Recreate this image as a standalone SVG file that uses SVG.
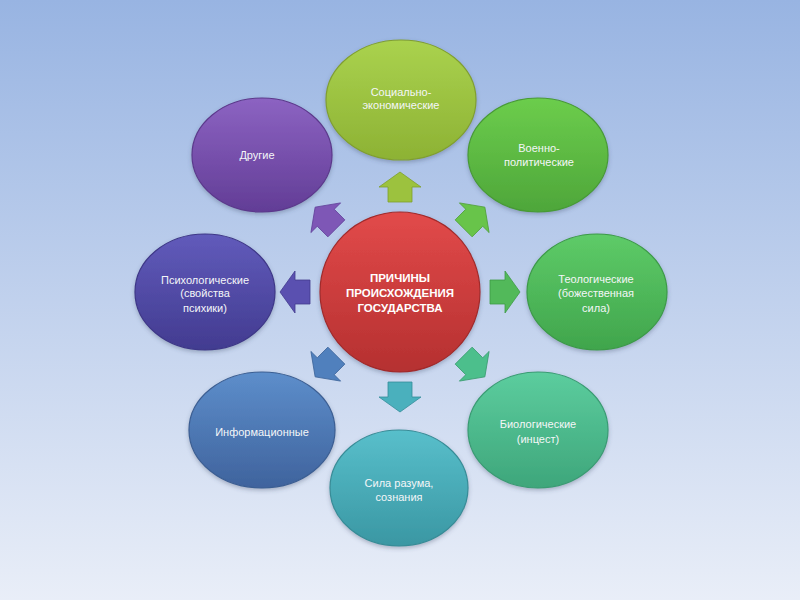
<svg xmlns="http://www.w3.org/2000/svg" width="800" height="600" viewBox="0 0 800 600">
<defs>
<linearGradient id="bg" x1="0" y1="0" x2="0" y2="1">
<stop offset="0" stop-color="#98b4e2"/>
<stop offset="1" stop-color="#e9eef8"/>
</linearGradient>
<linearGradient id="gTop" x1="0" y1="0" x2="0" y2="1"><stop offset="0" stop-color="#aad24e"/><stop offset="1" stop-color="#8db234"/></linearGradient>
<linearGradient id="gVoen" x1="0" y1="0" x2="0" y2="1"><stop offset="0" stop-color="#6ccd4c"/><stop offset="1" stop-color="#4ea63a"/></linearGradient>
<linearGradient id="gTeo" x1="0" y1="0" x2="0" y2="1"><stop offset="0" stop-color="#5ecb68"/><stop offset="1" stop-color="#40a54c"/></linearGradient>
<linearGradient id="gBio" x1="0" y1="0" x2="0" y2="1"><stop offset="0" stop-color="#5ccd9e"/><stop offset="1" stop-color="#3ea67b"/></linearGradient>
<linearGradient id="gSila" x1="0" y1="0" x2="0" y2="1"><stop offset="0" stop-color="#58bfcb"/><stop offset="1" stop-color="#3a97a3"/></linearGradient>
<linearGradient id="gInfo" x1="0" y1="0" x2="0" y2="1"><stop offset="0" stop-color="#5d8ecb"/><stop offset="1" stop-color="#3f639d"/></linearGradient>
<linearGradient id="gPsi" x1="0" y1="0" x2="0" y2="1"><stop offset="0" stop-color="#615bbb"/><stop offset="1" stop-color="#423b90"/></linearGradient>
<linearGradient id="gDr" x1="0" y1="0" x2="0" y2="1"><stop offset="0" stop-color="#8c63c2"/><stop offset="1" stop-color="#623d96"/></linearGradient>
<linearGradient id="gC" x1="0" y1="0" x2="0" y2="1"><stop offset="0" stop-color="#e24a4a"/><stop offset="1" stop-color="#b53030"/></linearGradient>
<filter id="sh" x="-20%" y="-20%" width="140%" height="140%">
<feDropShadow dx="0" dy="2" stdDeviation="2" flood-color="#3a4a66" flood-opacity="0.35"/>
</filter>
<path id="arr" d="M -12,-90 L -12,-105 L -21,-105 L 0,-120 L 21,-105 L 12,-105 L 12,-90 Z"/>
</defs>
<style>
.n { stroke-width: 1.2; filter: url(#sh); }
.t { font-family: "Liberation Sans", Arial, sans-serif; font-size: 11px; fill: #f4f6f8; text-anchor: middle; }
.tc { font-family: "Liberation Sans", Arial, sans-serif; font-size: 11.5px; font-weight: bold; fill: #ffffff; text-anchor: middle; }
.a { stroke-width: 0.8; stroke-linejoin: round; }
</style>
<rect x="0" y="0" width="800" height="600" fill="url(#bg)"/>

<g id="connectors" transform="translate(400,292)">
<use href="#arr" class="a" fill="#9cc23e" stroke="#7f9f2c" transform="rotate(0)"/>
<use href="#arr" class="a" fill="#68c44a" stroke="#4f9f37" transform="rotate(45)"/>
<use href="#arr" class="a" fill="#52b95a" stroke="#3e9a45" transform="rotate(90)"/>
<use href="#arr" class="a" fill="#4cbf8c" stroke="#389c6e" transform="rotate(135)"/>
<use href="#arr" class="a" fill="#4ab0bd" stroke="#368e9a" transform="rotate(180)"/>
<use href="#arr" class="a" fill="#5080bd" stroke="#3b6399" transform="rotate(225)"/>
<use href="#arr" class="a" fill="#5a50b0" stroke="#433b8e" transform="rotate(270)"/>
<use href="#arr" class="a" fill="#7e57b6" stroke="#61409a" transform="rotate(315)"/>
</g>

<g id="node-center">
<circle class="n" cx="400" cy="292" r="80" fill="url(#gC)" stroke="#a02a2a"/>
<text class="tc" x="400" y="282">ПРИЧИНЫ</text>
<text class="tc" x="400" y="297">ПРОИСХОЖДЕНИЯ</text>
<text class="tc" x="400" y="312">ГОСУДАРСТВА</text>
</g>

<g id="node-socio">
<ellipse class="n" cx="401" cy="100" rx="75" ry="60" fill="url(#gTop)" stroke="#809f2e"/>
<text class="t" x="401" y="96">Социально-</text>
<text class="t" x="401" y="109">экономические</text>
</g>

<g id="node-voen">
<ellipse class="n" cx="538" cy="155" rx="70" ry="57" fill="url(#gVoen)" stroke="#489a36"/>
<text class="t" x="539" y="152">Военно-</text>
<text class="t" x="539" y="166">политические</text>
</g>

<g id="node-teo">
<ellipse class="n" cx="597" cy="292" rx="70" ry="58" fill="url(#gTeo)" stroke="#3c9a47"/>
<text class="t" x="596" y="283">Теологические</text>
<text class="t" x="596" y="297">(божественная</text>
<text class="t" x="596" y="312">сила)</text>
</g>

<g id="node-bio">
<ellipse class="n" cx="538" cy="430" rx="70" ry="58" fill="url(#gBio)" stroke="#3a9b73"/>
<text class="t" x="538" y="428">Биологические</text>
<text class="t" x="538" y="443">(инцест)</text>
</g>

<g id="node-sila">
<ellipse class="n" cx="399" cy="488" rx="69" ry="58" fill="url(#gSila)" stroke="#378c97"/>
<text class="t" x="399" y="487">Сила разума,</text>
<text class="t" x="399" y="501">сознания</text>
</g>

<g id="node-info">
<ellipse class="n" cx="262" cy="430" rx="73" ry="58" fill="url(#gInfo)" stroke="#3b5e93"/>
<text class="t" x="262" y="436">Информационные</text>
</g>

<g id="node-psi">
<ellipse class="n" cx="205" cy="292" rx="70" ry="58" fill="url(#gPsi)" stroke="#3e3788"/>
<text class="t" x="205" y="284">Психологические</text>
<text class="t" x="205" y="297">(свойства</text>
<text class="t" x="205" y="312">психики)</text>
</g>

<g id="node-drugie">
<ellipse class="n" cx="262" cy="155" rx="70" ry="57" fill="url(#gDr)" stroke="#5c398c"/>
<text class="t" x="257" y="159">Другие</text>
</g>
</svg>
